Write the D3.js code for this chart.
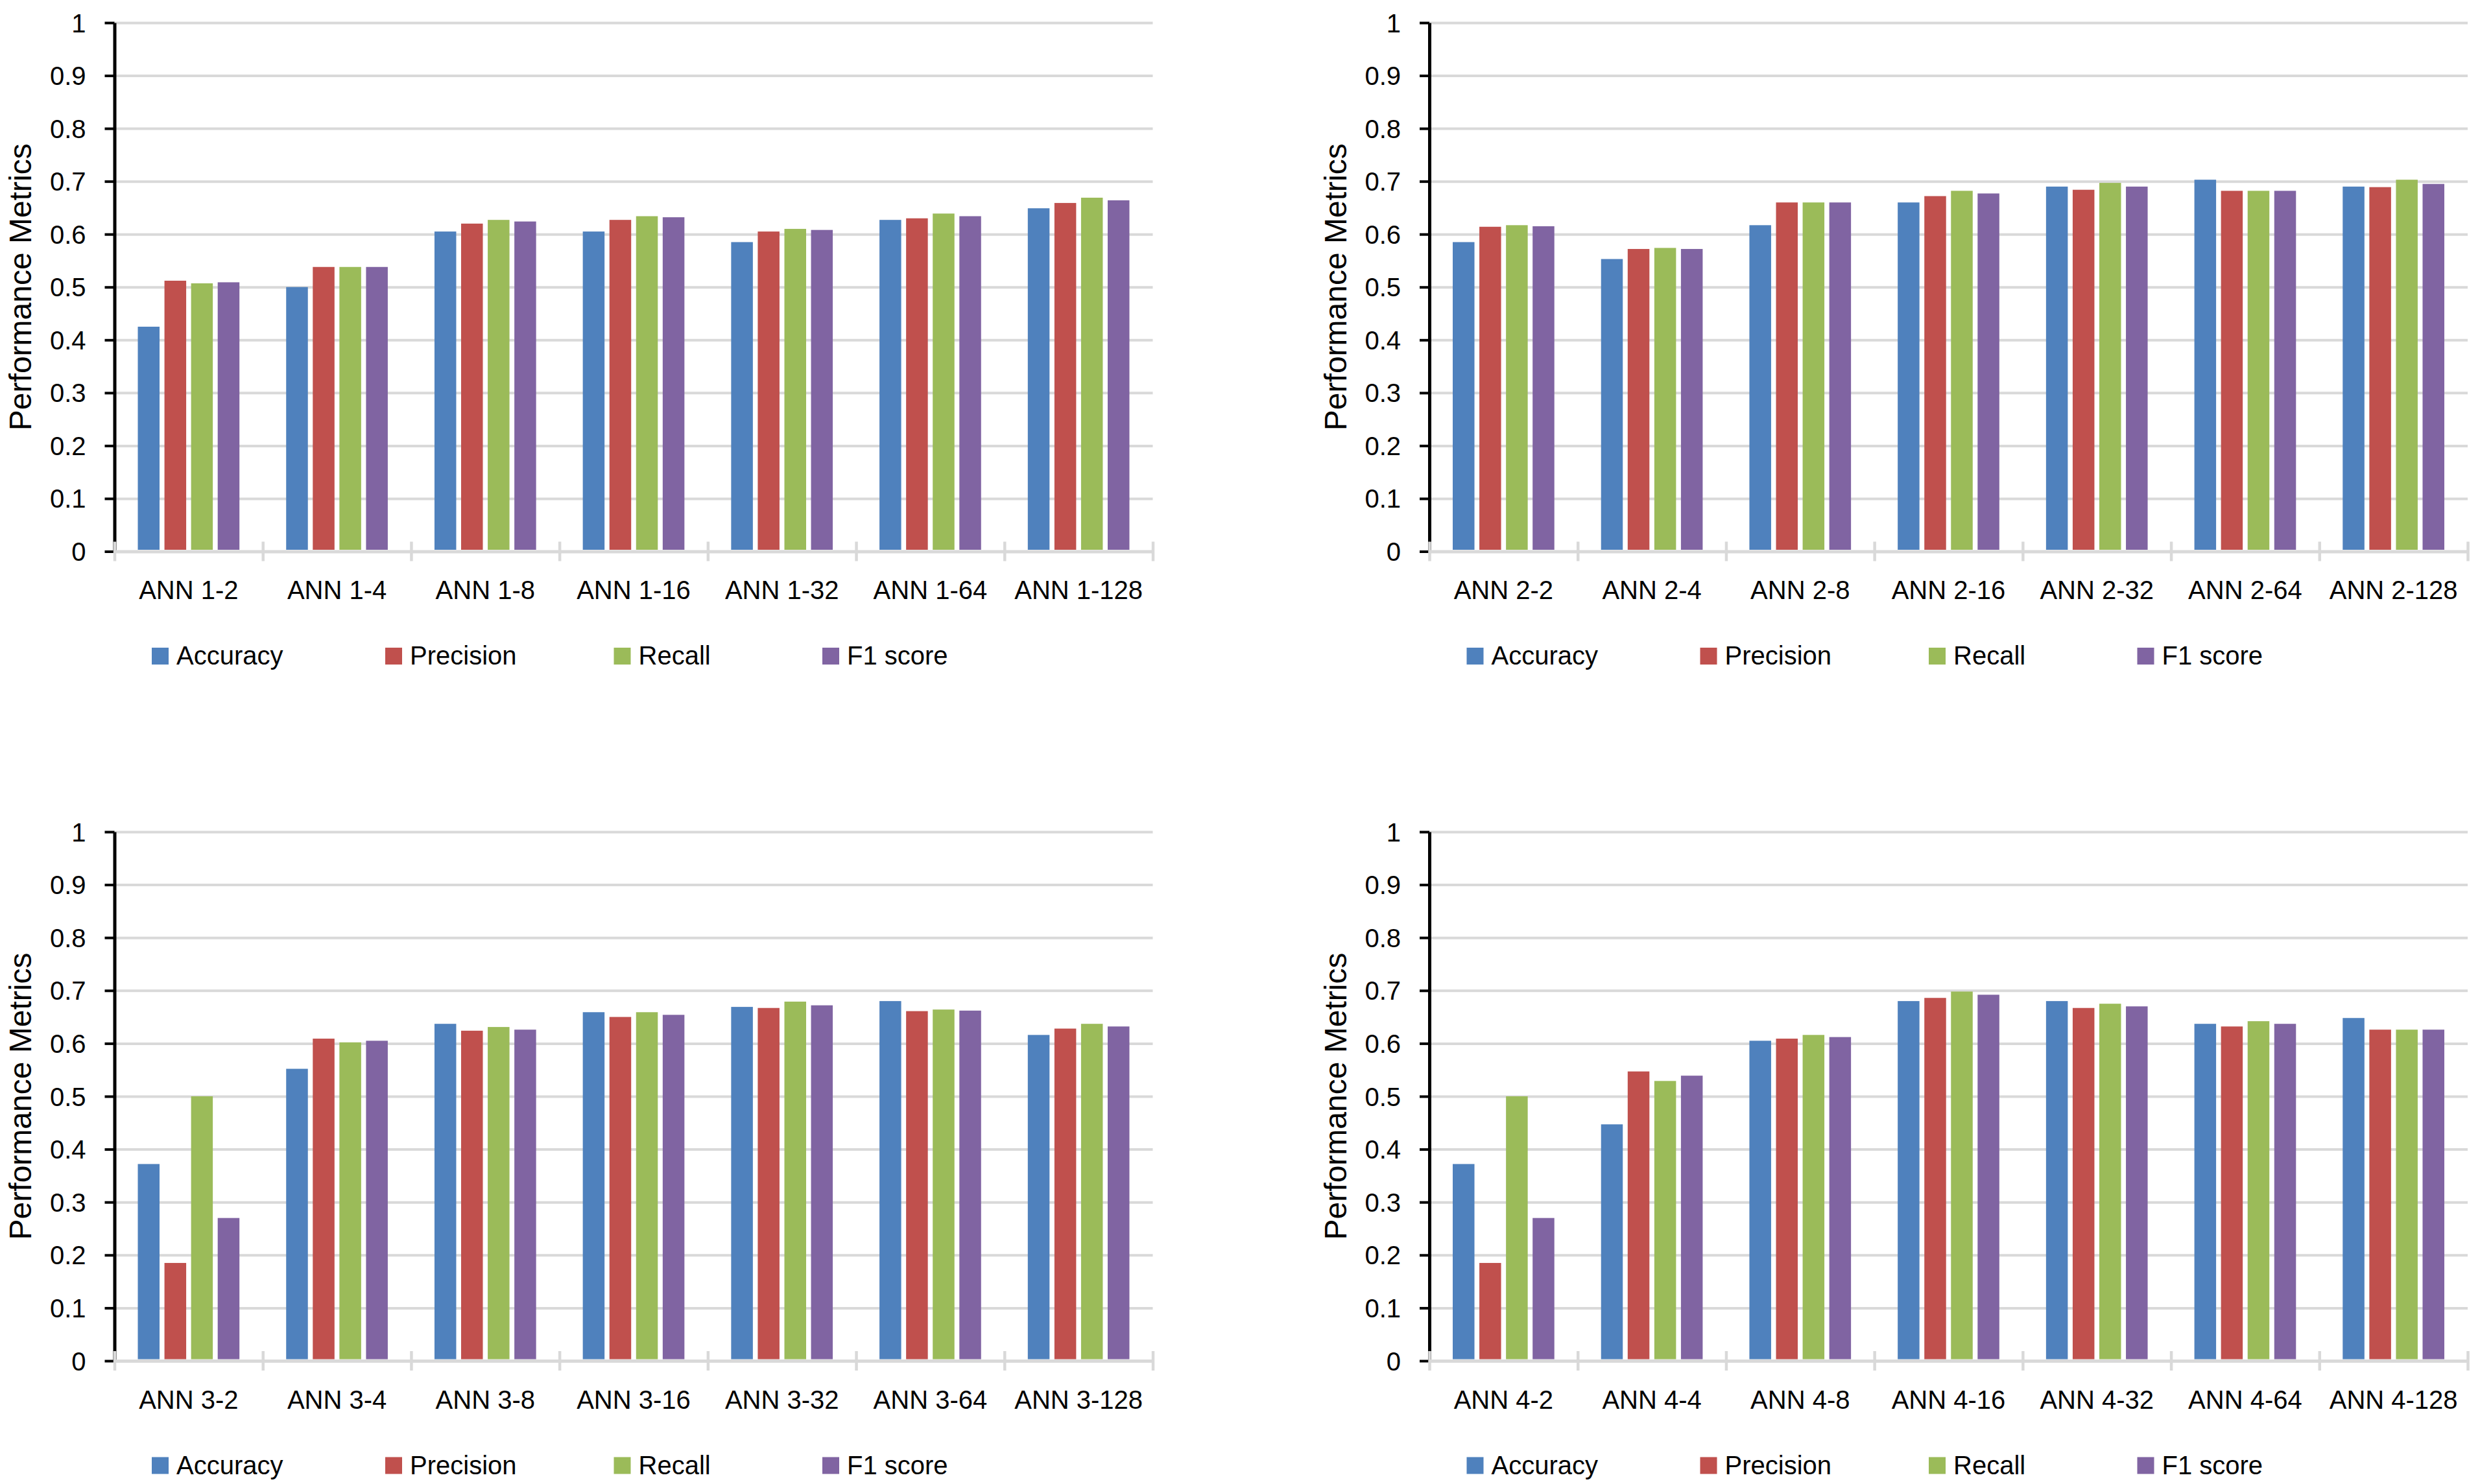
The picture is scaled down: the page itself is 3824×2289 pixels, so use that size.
<!DOCTYPE html>
<html>
<head>
<meta charset="utf-8">
<script src="https://cdn.jsdelivr.net/npm/d3@7"></script>
<style>
    body { margin: 0; background: #ffffff; }
    svg { display: block; }
    text { font-family: "Liberation Sans", Arial, sans-serif; fill: #000000; }
</style>
</head>
<body>
<div class="AppBody"></div>
<script>

const series_names = ["Accuracy", "Precision", "Recall", "F1 score"];
const series_colors = ["#4F81BD", "#C0504D", "#9BBB59", "#8064A2"];
const y_ticks = [0, 0.1, 0.2, 0.3, 0.4, 0.5, 0.6, 0.7, 0.8, 0.9, 1];
const y_title = "Performance Metrics";

const ann1_categories = ["ANN 1-2", "ANN 1-4", "ANN 1-8", "ANN 1-16", "ANN 1-32", "ANN 1-64", "ANN 1-128"];
const ann1_accuracy = [0.425, 0.500, 0.605, 0.605, 0.585, 0.627, 0.649];
const ann1_precision = [0.512, 0.538, 0.620, 0.627, 0.605, 0.630, 0.659];
const ann1_recall = [0.507, 0.538, 0.627, 0.634, 0.610, 0.639, 0.669];
const ann1_f1 = [0.509, 0.538, 0.624, 0.632, 0.608, 0.634, 0.664];

const ann2_categories = ["ANN 2-2", "ANN 2-4", "ANN 2-8", "ANN 2-16", "ANN 2-32", "ANN 2-64", "ANN 2-128"];
const ann2_accuracy = [0.585, 0.553, 0.617, 0.660, 0.690, 0.703, 0.690];
const ann2_precision = [0.614, 0.572, 0.660, 0.672, 0.684, 0.682, 0.689];
const ann2_recall = [0.617, 0.574, 0.660, 0.682, 0.697, 0.682, 0.703];
const ann2_f1 = [0.615, 0.572, 0.660, 0.677, 0.690, 0.682, 0.695];

const ann3_categories = ["ANN 3-2", "ANN 3-4", "ANN 3-8", "ANN 3-16", "ANN 3-32", "ANN 3-64", "ANN 3-128"];
const ann3_accuracy = [0.372, 0.552, 0.637, 0.659, 0.669, 0.680, 0.616];
const ann3_precision = [0.185, 0.609, 0.624, 0.650, 0.667, 0.661, 0.628];
const ann3_recall = [0.500, 0.602, 0.631, 0.659, 0.679, 0.664, 0.637];
const ann3_f1 = [0.270, 0.605, 0.626, 0.654, 0.672, 0.662, 0.632];

const ann4_categories = ["ANN 4-2", "ANN 4-4", "ANN 4-8", "ANN 4-16", "ANN 4-32", "ANN 4-64", "ANN 4-128"];
const ann4_accuracy = [0.372, 0.447, 0.605, 0.680, 0.680, 0.637, 0.648];
const ann4_precision = [0.185, 0.547, 0.609, 0.686, 0.667, 0.632, 0.626];
const ann4_recall = [0.500, 0.529, 0.616, 0.698, 0.675, 0.642, 0.626];
const ann4_f1 = [0.270, 0.539, 0.612, 0.692, 0.670, 0.637, 0.626];

// panel layout (page pixels)
const panels = [
    {left: 176.5, top: 35, bottom: 850.5, categories: ann1_categories,
        series: [ann1_accuracy, ann1_precision, ann1_recall, ann1_f1]},
    {left: 2204, top: 35, bottom: 850.5, categories: ann2_categories,
        series: [ann2_accuracy, ann2_precision, ann2_recall, ann2_f1]},
    {left: 176.5, top: 1283, bottom: 2099, categories: ann3_categories,
        series: [ann3_accuracy, ann3_precision, ann3_recall, ann3_f1]},
    {left: 2204, top: 1283, bottom: 2099, categories: ann4_categories,
        series: [ann4_accuracy, ann4_precision, ann4_recall, ann4_f1]}
];

const plot_width = 1601;
const legend_offsets = [57.5, 417.5, 770, 1091.5];
const font_size = 40;

const svg = d3.select(".AppBody")
    .append("svg")
    .attr("width", 3824)
    .attr("height", 2289);

const draw_panel = function (panel) {

    const g = svg.append("g")
        .attr("transform", `translate(${panel.left}, 0)`);

    const y = d3.scaleLinear()
        .domain([0, 1])
        .range([panel.bottom, panel.top]);

    const x0 = d3.scaleBand()
        .domain(panel.categories)
        .range([0, plot_width]);

    const x1 = d3.scaleBand()
        .domain(series_names)
        .range([0, x0.bandwidth()])
        .paddingInner(0.184)
        .paddingOuter(0.877);

    // gridlines
    g.append("g")
        .call(d3.axisLeft(y).tickValues(y_ticks.filter(t => t > 0)).tickSize(-plot_width).tickFormat(""))
        .call(a => a.select(".domain").remove())
        .selectAll("line")
        .attr("stroke", "#D9D9D9")
        .attr("stroke-width", 4);

    // bars
    const rows = panel.categories.map((c, i) => ({
        category: c,
        values: series_names.map((s, k) => ({name: s, value: panel.series[k][i], color: series_colors[k]}))
    }));

    g.append("g")
        .selectAll("g")
        .data(rows)
        .join("g")
        .attr("transform", d => `translate(${x0(d.category)}, 0)`)
        .selectAll("rect")
        .data(d => d.values)
        .join("rect")
        .attr("x", d => x1(d.name))
        .attr("y", d => y(d.value))
        .attr("width", x1.bandwidth())
        .attr("height", d => y(0) - y(d.value) - 2.5)
        .attr("fill", d => d.color);

    // y axis
    const y_axis = g.append("g")
        .call(d3.axisLeft(y).tickValues(y_ticks).tickSize(15).tickSizeOuter(0).tickPadding(29)
            .tickFormat(d => String(d)));
    y_axis.select(".domain")
        .attr("stroke", "#000000")
        .attr("stroke-width", 5);
    y_axis.selectAll(".tick line")
        .attr("stroke", "#000000")
        .attr("stroke-width", 4);
    y_axis.selectAll("text")
        .attr("font-size", font_size)
        .attr("font-family", "Liberation Sans, Arial, sans-serif")
        .attr("dy", "0.35em");

    // x axis: boundary ticks crossing the axis line
    const boundaries = d3.scaleLinear()
        .domain([0, panel.categories.length])
        .range([0, plot_width]);

    const x_axis = g.append("g")
        .attr("transform", `translate(0, ${y(0)})`)
        .call(d3.axisBottom(boundaries).tickValues(d3.range(panel.categories.length + 1))
            .tickSize(15).tickSizeOuter(0).tickFormat(""));
    x_axis.select(".domain")
        .attr("stroke", "#D9D9D9")
        .attr("stroke-width", 5);
    x_axis.selectAll(".tick line")
        .attr("y1", -15)
        .attr("stroke", "#D9D9D9")
        .attr("stroke-width", 4.5);

    // category labels
    const label_axis = g.append("g")
        .attr("transform", `translate(0, ${y(0)})`)
        .call(d3.axisBottom(x0).tickSize(0).tickPadding(0));
    label_axis.select(".domain").remove();
    label_axis.selectAll("text")
        .attr("font-size", font_size)
        .attr("font-family", "Liberation Sans, Arial, sans-serif")
        .attr("y", 73.5)
        .attr("dy", 0);

    // axis title
    g.append("text")
        .attr("transform", `translate(-128.5, ${(panel.top + panel.bottom) / 2}) rotate(-90)`)
        .attr("text-anchor", "middle")
        .attr("font-size", 48)
        .text(y_title);

    // legend
    const legend = g.append("g")
        .attr("transform", `translate(0, ${y(0) + 174.5})`)
        .selectAll("g")
        .data(series_names)
        .join("g")
        .attr("transform", (d, i) => `translate(${legend_offsets[i]}, 0)`);
    legend.append("rect")
        .attr("x", 0)
        .attr("y", -26)
        .attr("width", 26)
        .attr("height", 26)
        .attr("fill", (d, i) => series_colors[i]);
    legend.append("text")
        .attr("x", 38)
        .attr("y", 0)
        .attr("font-size", font_size)
        .text(d => d);
};

panels.forEach(draw_panel);

</script>
</body>
</html>
